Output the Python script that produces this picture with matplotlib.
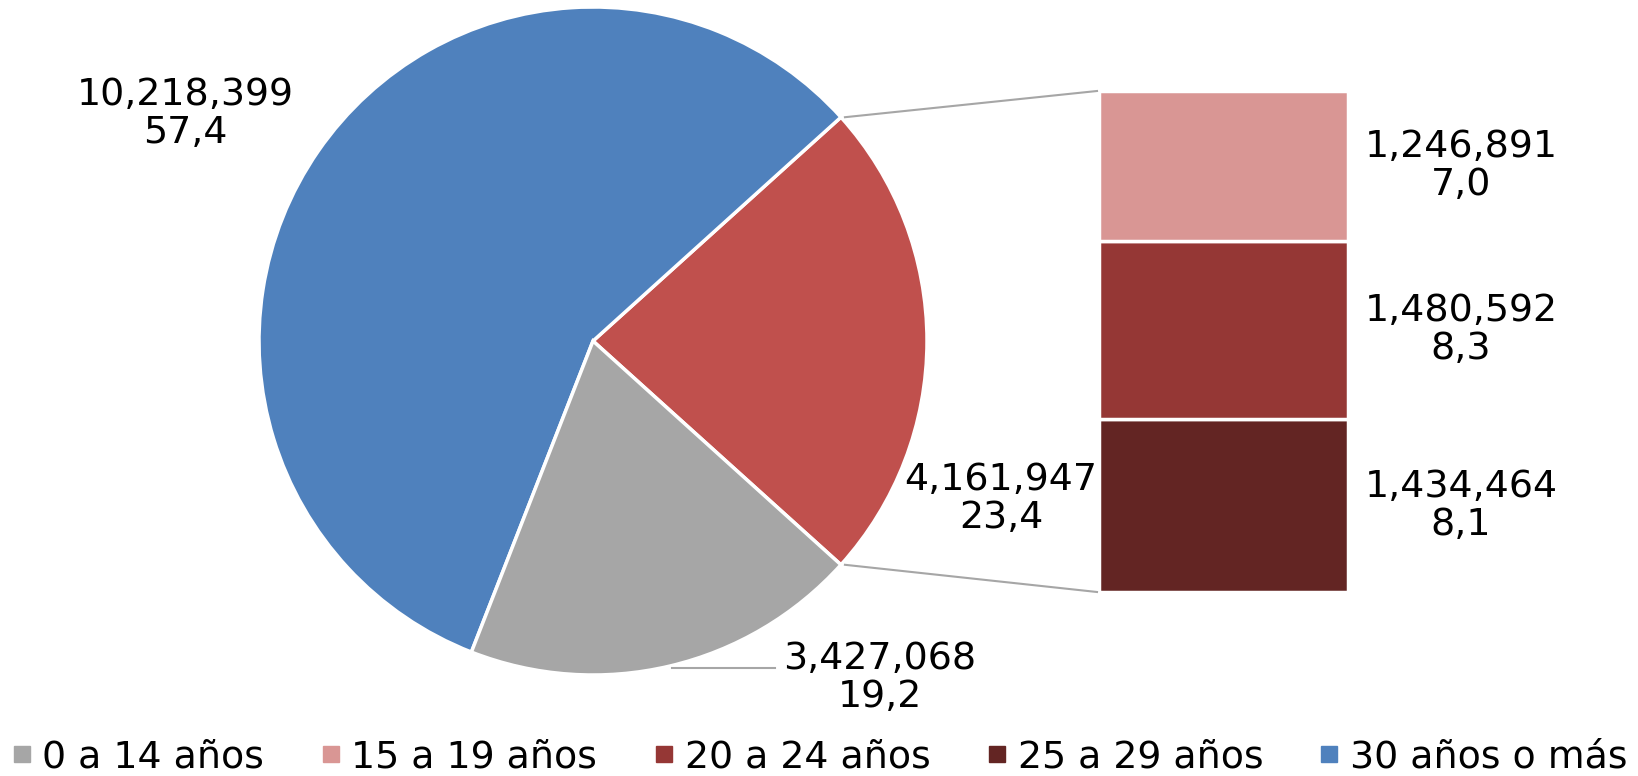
import matplotlib
matplotlib.use("Agg")
import matplotlib.pyplot as plt
from matplotlib.lines import Line2D
import numpy as np

plt.rcParams['font.family'] = ['DejaVu Sans']

# ---- data ----
pie_labels = ["20 a 29 años", "30 años o más", "0 a 14 años"]
pie_values = [4161947, 10218399, 3427068]
pie_colors = ["#C0504D", "#4F81BD", "#A6A6A6"]

bar_labels = ["25 a 29 años", "20 a 24 años", "15 a 19 años"]  # bottom -> top
bar_values = [1434464, 1480592, 1246891]
bar_colors = ["#632523", "#953735", "#D99694"]

legend_labels = ["0 a 14 años", "15 a 19 años", "20 a 24 años", "25 a 29 años", "30 años o más"]
legend_colors = ["#A6A6A6", "#D99694", "#953735", "#632523", "#4F81BD"]

W, H = 1638, 776
fig = plt.figure(figsize=(W / 100, H / 100), dpi=100)
ax = fig.add_axes([0, 0, 1, 1])

total = sum(pie_values)
fracs = [v / total for v in pie_values]
start = -360 * fracs[0] / 2
cx, cy, R = 593, 435, 334

ax.pie(pie_values, colors=pie_colors, startangle=start, counterclock=True,
       center=(cx, cy), radius=R, frame=True,
       wedgeprops=dict(edgecolor='white', linewidth=2.5))
ax.set_xlim(0, W)
ax.set_ylim(0, H)
ax.set_aspect('equal')
ax.axis('off')

def fmt_pct(v, t):
    return f"{100 * v / t:.1f}".replace('.', ',')

fs = 27.3
ls = 1.07
# pie labels
ax.text(185, 662, f"{pie_values[1]:,}\n{fmt_pct(pie_values[1], total)}", ha='center', va='center',
        fontsize=fs, linespacing=ls)
ax.text(1001, 277, f"{pie_values[0]:,}\n{fmt_pct(pie_values[0], total)}", ha='center', va='center',
        fontsize=fs, linespacing=ls)
ax.text(880, 98, f"{pie_values[2]:,}\n{fmt_pct(pie_values[2], total)}", ha='center', va='center',
        fontsize=fs, linespacing=ls)
ax.plot([672, 775], [108, 108], color='#A6A6A6', lw=1.5)

# bar
bx0, bx1 = 1099, 1348
by0, by1 = 184, 685
scale = (by1 - by0) / sum(bar_values)
bottom = by0
bar_bottoms = []
for v, c in zip(bar_values, bar_colors):
    ax.bar((bx0 + bx1) / 2, v * scale, width=bx1 - bx0, bottom=bottom, color=c,
           edgecolor='white', linewidth=2.5)
    bar_bottoms.append(bottom)
    bottom += v * scale

for v, b in zip(bar_values, bar_bottoms):
    ax.text(1461, b + v * scale / 2, f"{v:,}\n{fmt_pct(v, total)}", ha='center', va='center',
            fontsize=fs, linespacing=ls)

# connectors
a1 = np.deg2rad(start + 360 * fracs[0])
a0 = np.deg2rad(start)
ax.plot([cx + R * np.cos(a1) + 4, bx0 - 2], [cy + R * np.sin(a1), by1], color='#A6A6A6', lw=1.5)
ax.plot([cx + R * np.cos(a0) + 4, bx0 - 2], [cy + R * np.sin(a0), by0], color='#A6A6A6', lw=1.5)

handles = [Line2D([0], [0], marker='s', linestyle='none', markersize=11,
                  markerfacecolor=c, markeredgecolor=c) for c in legend_colors]
fig.legend(handles, legend_labels, loc='center', bbox_to_anchor=(0.5, 19 / H), ncol=5,
           frameon=False, fontsize=fs, handlelength=0.6, handletextpad=0.25, columnspacing=1.45,
           borderpad=0, borderaxespad=0)

fig.savefig("out.png", dpi=100)
